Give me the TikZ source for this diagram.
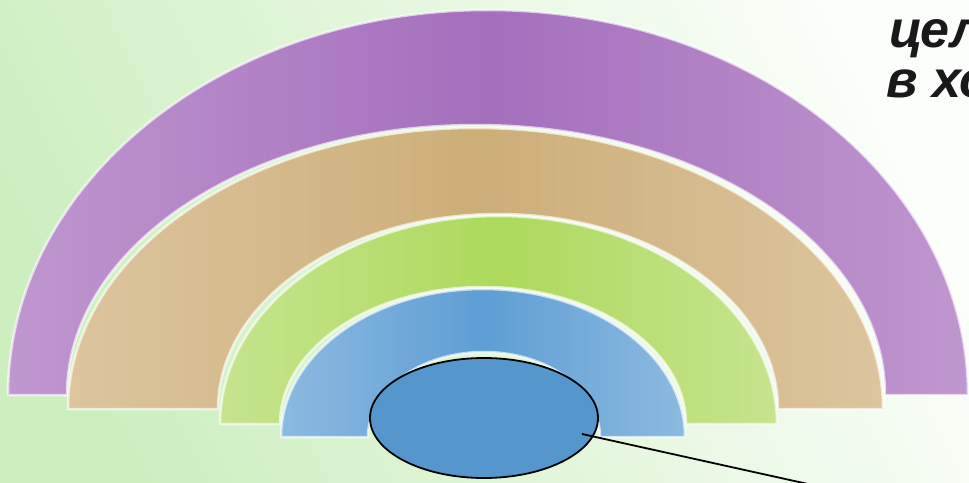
\documentclass[tikz,border=0pt]{standalone}
\usepackage{fontspec}
\setmainfont{Liberation Sans}
\usetikzlibrary{shapes.geometric}
\definecolor{bgG}{HTML}{CDEFC0}
\definecolor{bgW}{HTML}{FBFEFA}
\definecolor{puS}{HTML}{BF97CF}
\definecolor{puM}{HTML}{A46FBD}
\definecolor{taS}{HTML}{DCC59E}
\definecolor{taM}{HTML}{CCAE78}
\definecolor{grS}{HTML}{C6E48E}
\definecolor{grM}{HTML}{ADD95C}
\definecolor{blS}{HTML}{8CBAE0}
\definecolor{blM}{HTML}{5E9ED4}
\definecolor{ovl}{HTML}{5596CC}
\tikzset{
  arch/.style={draw=white, draw opacity=0.65, line width=2.5pt, line join=round},
  bigtext/.style={anchor=base west, text=black!90, font=\fontsize{52}{50}\selectfont\bfseries\itshape, inner sep=0pt},
  oval/.style={ellipse, draw=black, line width=1.8pt, fill=ovl, minimum width=228pt, minimum height=120pt, inner sep=0pt},
  leader/.style={draw=black, line width=1.8pt}
}
\begin{document}
\begin{tikzpicture}[x=1pt,y=-1pt]
\useasboundingbox (0,0) rectangle (969,482);
\clip (0,0) rectangle (969,482);
\shade[top color=bgW, bottom color=bgG, shading angle=-65] (-5,-5) rectangle (974,487);
% purple arch
\path[arch, left color=puS, right color=puS, middle color=puM]
  (8,395) arc[start angle=180, end angle=360, x radius=480, y radius=385]
  -- (885,395) arc[start angle=0, end angle=-180, x radius=409, y radius=270] -- cycle;
% tan arch
\path[arch, left color=taS, right color=taS, middle color=taM]
  (68,409) arc[start angle=180, end angle=360, x radius=407.5, y radius=281]
  -- (778,409) arc[start angle=0, end angle=-180, x radius=280, y radius=195] -- cycle;
% green arch
\path[arch, left color=grS, right color=grS, middle color=grM]
  (220,424) arc[start angle=180, end angle=360, x radius=278.5, y radius=208]
  -- (686,424) arc[start angle=0, end angle=-180, x radius=203, y radius=137] -- cycle;
% blue arch
\path[arch, left color=blS, right color=blS, middle color=blM]
  (281,437) arc[start angle=180, end angle=360, x radius=202, y radius=148]
  -- (600,437) arc[start angle=0, end angle=-180, x radius=116, y radius=85] -- cycle;
% ellipse and leader line
\node[oval] (e) at (484,418) {};
\coordinate (ls) at (582,434);
\coordinate (le) at (826,488);
\draw[leader] (ls) -- (le);
% text
\node[bigtext] (t1) at (889,47) {цел};
\node[bigtext] (t2) at (886,97) {в хо};
\end{tikzpicture}
\end{document}
